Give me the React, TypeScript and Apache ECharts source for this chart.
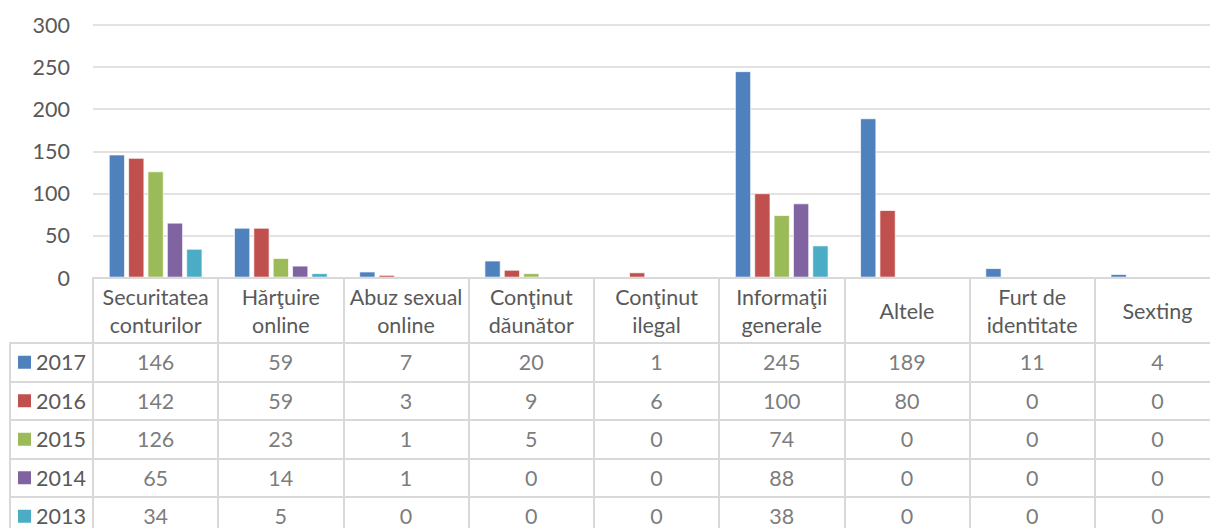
import React, { useEffect, useRef } from "react";
import * as echarts from "echarts";

const categories = [
  "Securitatea\nconturilor",
  "Hărţuire\nonline",
  "Abuz sexual\nonline",
  "Conţinut\ndăunător",
  "Conţinut\nilegal",
  "Informaţii\ngenerale",
  "Altele",
  "Furt de\nidentitate",
  "Sexting",
];
const years = ["2017", "2016", "2015", "2014", "2013"];
const v2017 = [146, 59, 7, 20, 1, 245, 189, 11, 4];
const v2016 = [142, 59, 3, 9, 6, 100, 80, 0, 0];
const v2015 = [126, 23, 1, 5, 0, 74, 0, 0, 0];
const v2014 = [65, 14, 1, 0, 0, 88, 0, 0, 0];
const v2013 = [34, 5, 0, 0, 0, 38, 0, 0, 0];
const seriesValues = [v2017, v2016, v2015, v2014, v2013];
const colors = ["#4F81BD", "#C0504D", "#9BBB59", "#8064A2", "#4BACC6"];
const yTicks = { min: 0, max: 300, interval: 50 };

const FONT = "Lato";
const FS = 21.5;
const TXT = "#595959";
const LINE = "#d9d9d9";

export default function App() {
  const ref = useRef<HTMLDivElement>(null);
  useEffect(() => {
    if (!ref.current) return;
    const chart = echarts.init(ref.current, undefined, { renderer: "svg" });
    const bars = years.map((y, k) => ({
      name: y,
      type: "bar",
      xAxisIndex: 0,
      yAxisIndex: 0,
      z: 0,
      data: seriesValues[k],
      barWidth: 16,
      barGap: "21%",
      itemStyle: { color: colors[k], borderColor: "#ffffff", borderWidth: 0.7 },
    }));
    const cells = years.map((y, k) => ({
      name: "t" + y,
      type: "scatter",
      xAxisIndex: 1,
      yAxisIndex: 1,
      symbolSize: 1,
      itemStyle: { color: "rgba(0,0,0,0)" },
      data: seriesValues[k].map((v, i) => [i, k, v]),
      label: {
        show: true,
        position: "inside",
        formatter: (p: any) => String(p.value[2]),
        color: TXT,
        fontFamily: FONT,
        fontSize: FS,
      },
    }));
    chart.setOption({
      animation: false,
      textStyle: { fontFamily: FONT },
      grid: [
        { left: 93, top: 25, width: 1127, height: 252.5 },
        { left: 93, top: 343, width: 1127, height: 192.5 },
      ],
      xAxis: [
        {
          type: "category",
          gridIndex: 0,
          z: 5,
          data: categories,
          axisLine: { show: true, lineStyle: { color: LINE, width: 2 } },
          axisTick: {
            show: true,
            interval: 0,
            length: 65,
            lineStyle: { color: LINE, width: 2 },
          },
          axisLabel: {
            interval: 0,
            color: TXT,
            fontFamily: FONT,
            fontSize: FS,
            lineHeight: 28,
            verticalAlign: "middle",
            margin: 33,
          },
        },
        {
          type: "category",
          gridIndex: 1,
          position: "top",
          data: categories,
          axisLine: { show: true, lineStyle: { color: LINE, width: 2 } },
          axisTick: { show: false },
          axisLabel: { show: false },
          splitLine: { show: true, interval: 0, lineStyle: { color: LINE, width: 2 } },
        },
      ],
      yAxis: [
        {
          type: "value",
          gridIndex: 0,
          min: yTicks.min,
          max: yTicks.max,
          interval: yTicks.interval,
          axisLine: { show: false },
          axisTick: { show: false },
          splitLine: { lineStyle: { color: LINE, width: 1.5 } },
          axisLabel: { color: TXT, fontFamily: FONT, fontSize: FS, margin: 23 },
        },
        {
          type: "category",
          gridIndex: 1,
          inverse: true,
          data: years,
          axisLine: { show: true, lineStyle: { color: LINE, width: 2 } },
          axisTick: {
            show: true,
            interval: 0,
            length: 83,
            lineStyle: { color: LINE, width: 2 },
          },
          splitLine: { show: true, interval: 0, lineStyle: { color: LINE, width: 2 } },
          axisLabel: {
            align: "left",
            margin: 75,
            interval: 0,
            formatter: (v: string) => {
              const k = years.indexOf(v);
              return "{s" + k + "|}{t|" + v + "}";
            },
            rich: {
              s0: { width: 13, height: 13, backgroundColor: colors[0] },
              s1: { width: 13, height: 13, backgroundColor: colors[1] },
              s2: { width: 13, height: 13, backgroundColor: colors[2] },
              s3: { width: 13, height: 13, backgroundColor: colors[3] },
              s4: { width: 13, height: 13, backgroundColor: colors[4] },
              t: { color: TXT, fontFamily: FONT, fontSize: FS, padding: [0, 0, 0, 5] },
            },
          },
        },
        {
          type: "category",
          gridIndex: 1,
          inverse: true,
          data: years,
          offset: 83,
          position: "left",
          axisLine: { show: true, lineStyle: { color: LINE, width: 2 } },
          axisTick: { show: false },
          axisLabel: { show: false },
          splitLine: { show: false },
        },
      ],
      series: [...bars, ...cells],
    });
    return () => chart.dispose();
  }, []);
  return (
    <div style={{ position: "fixed", left: 0, top: 0, width: 1210, height: 528, overflow: "hidden", background: "#fff" }}>
      <div ref={ref} style={{ position: "absolute", left: 0, top: 0, width: 1240, height: 540 }} />
    </div>
  );
}
